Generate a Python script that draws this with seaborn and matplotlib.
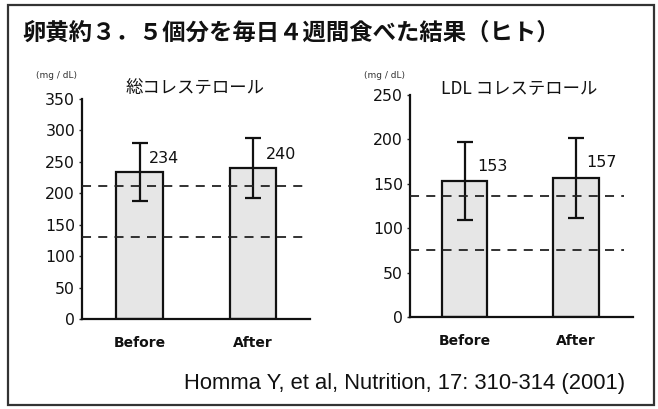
import matplotlib
matplotlib.use("Agg")
import matplotlib.pyplot as plt
import seaborn as sns
import pandas as pd
from matplotlib.patches import Rectangle

sns.set_theme(style="white")
plt.rcParams['font.family'] = ['Noto Sans CJK JP', 'DejaVu Sans']

# ---- data ----
categories = ["Before", "After"]
total_values = [234, 240]
total_err = [46, 48]
total_refs = [212, 130]
ldl_values = [153, 157]
ldl_err = [44, 45]
ldl_refs = [136, 76]
total_ticks = [0, 50, 100, 150, 200, 250, 300, 350]
ldl_ticks = [0, 50, 100, 150, 200, 250]

main_title = "卵黄約３．５個分を毎日４週間食べた結果（ヒト）"
total_title = "総コレステロール"
ldl_title = "LDL コレステロール"
unit_label = "(mg / dL)"
citation = "Homma Y, et al, Nutrition, 17: 310-314 (2001)"

W, H = 658, 409
fig = plt.figure(figsize=(W / 100, H / 100), dpi=100)

def fx(px):
    return px / W

def fy(py):
    return 1 - py / H

# frame
fig.patches.append(Rectangle((fx(8), fy(405)), fx(654) - fx(8), fy(5) - fy(405),
                             transform=fig.transFigure, fill=False,
                             edgecolor="#333333", lw=1.6))

def panel(rect, values, errs, refs, ticks, ymax, xlim, lab_dx, lab_dy, ref_xmax):
    ax = fig.add_axes(rect)
    df = pd.DataFrame({"cat": categories, "val": values})
    sns.barplot(data=df, x="cat", y="val", ax=ax, color="#e6e6e6",
                edgecolor="#111111", linewidth=1.6, width=0.41,
                saturation=1, errorbar=None)
    ax.errorbar(range(len(values)), values, yerr=errs, fmt="none",
                ecolor="#111111", elinewidth=1.6, capsize=6, capthick=1.6,
                zorder=5)
    for r in refs:
        ax.axhline(r, xmin=0, xmax=ref_xmax, color="#222222", lw=1.3,
                   ls=(0, (5, 4)), zorder=6)
    for i, v in enumerate(values):
        ax.text(i + lab_dx[i], v + lab_dy, str(v), ha="left", va="center",
                fontsize=11.5, color="#111111", family=["DejaVu Sans"])
    ax.set_ylim(0, ymax)
    ax.set_xlim(*xlim)
    ax.set_yticks(ticks)
    ax.set_yticklabels([str(t) for t in ticks], fontsize=11.3,
                       family=["DejaVu Sans"], color="#111111")
    ax.set_xticks(range(len(categories)))
    ax.set_xticklabels(categories, fontsize=10, fontweight="bold",
                       family=["DejaVu Sans"], color="#111111")
    ax.set_xlabel("")
    ax.set_ylabel("")
    for s in ["top", "right"]:
        ax.spines[s].set_visible(False)
    for s in ["left", "bottom"]:
        ax.spines[s].set_color("#111111")
        ax.spines[s].set_linewidth(1.6)
    ax.tick_params(axis="y", length=2, width=1, pad=3, left=True)
    ax.tick_params(axis="x", length=0, pad=12)
    ax.set_facecolor("none")
    return ax

# left panel: axis x 82..310, y 99..319
panel([fx(82), fy(319), fx(310) - fx(82), fy(99) - fy(319)],
      total_values, total_err, total_refs, total_ticks, 350,
      (-0.507, 1.502), [0.08, 0.11], 21, 0.97)

# right panel: axis x 410..633, y 95..317
panel([fx(410), fy(317), fx(633) - fx(410), fy(95) - fy(317)],
      ldl_values, ldl_err, ldl_refs, ldl_ticks, 250,
      (-0.49, 1.51), [0.11, 0.095], 17, 0.96)

# texts
fig.text(fx(22), fy(33), main_title, fontsize=16.8, fontweight="bold",
         ha="left", va="center", color="#111111")
fig.text(fx(195), fy(88), total_title, fontsize=12.5, ha="center",
         va="center", color="#111111")
fig.text(fx(519), fy(88), ldl_title, fontsize=12.5, ha="center",
         va="center", color="#111111")
fig.text(fx(56), fy(75), unit_label, fontsize=6.5, ha="center",
         va="center", color="#333333", family=["DejaVu Sans"])
fig.text(fx(384), fy(75), unit_label, fontsize=6.5, ha="center",
         va="center", color="#333333", family=["DejaVu Sans"])
fig.text(fx(625), fy(383), citation, fontsize=15.8, ha="right", va="center",
         color="#111111", family=["Liberation Sans"])

fig.savefig("out.png", dpi=100)
